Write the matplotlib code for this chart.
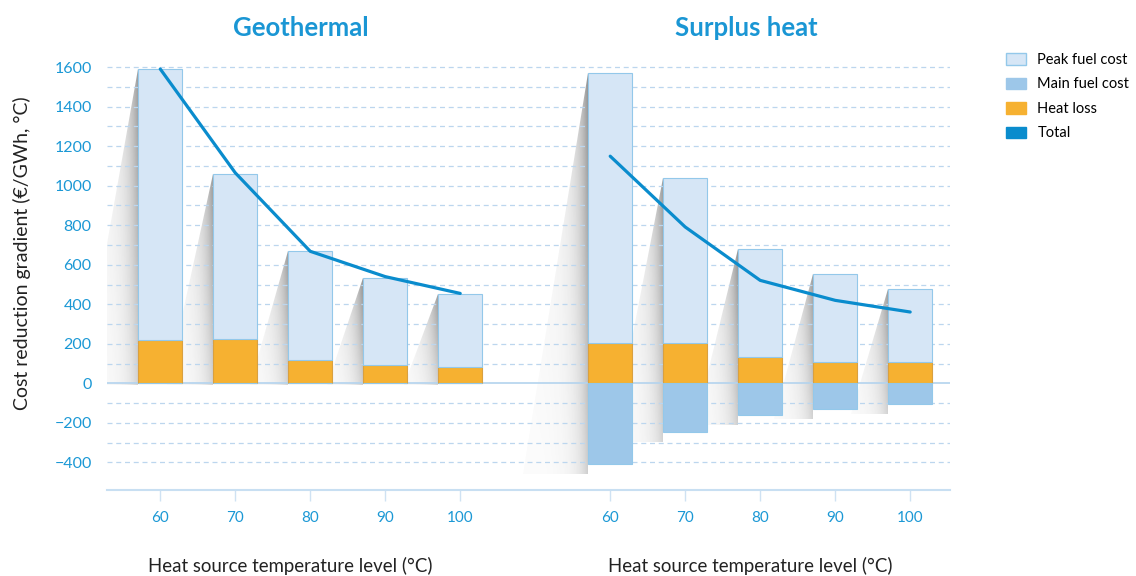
import numpy as np
import matplotlib
matplotlib.use('Agg')
from matplotlib import pyplot as plt
from matplotlib.patches import Patch, Polygon

plt.rcParams['font.family'] = ['Lato', 'DejaVu Sans']

# cost reduction gradient components (EUR/GWh, degC)
temps = [60, 70, 80, 90, 100]

geo_heat_loss = [218, 222, 120, 92, 82]
geo_peak_fuel = [1372, 838, 548, 440, 370]
geo_main_fuel = [0, 0, 0, 0, 0]
geo_total = [1590, 1065, 668, 540, 455]

surplus_heat_loss = [204, 204, 132, 110, 106]
surplus_peak_fuel = [1364, 836, 550, 445, 372]
surplus_main_fuel = [-407, -246, -162, -130, -106]
surplus_total = [1149, 791, 521, 420, 361]

groups = ['Geothermal', 'Surplus heat']

PEAK_C = '#d6e6f6'
PEAK_EDGE = '#93c8ea'
MAIN_C = '#9dc7e9'
LOSS_C = '#f6b131'
LOSS_EDGE = '#d9a040'
TOTAL_C = '#0a8ccd'
TICK_C = '#1b98d5'
GRID_C = '#bcd6ee'

W = 0.59
PX_X = 75.0     # pixels per x unit
PX_Y = 0.1975   # pixels per y unit

fig = plt.figure(figsize=(11.36, 5.76), dpi=100)
ax = fig.add_axes([0.0942, 0.149, 0.742, 0.769])
ax.set_xlim(-0.71, 10.53)
ax.set_ylim(-540, 1700)


def shadow(ax, x_left, top, base, spread_px):
    # soft grey wedge falling to the left of a bar
    spread = spread_px / PX_X
    nx, ny = 100, 240
    xs = np.linspace(x_left - spread, x_left, nx)
    ys = np.linspace(base, top, ny)
    XX, YY = np.meshgrid(xs, ys)
    dx_px = (x_left - XX) * PX_X
    frac = (YY - base) / (top - base)
    vert = 0.45 + 0.55 * frac
    alpha = (0.04 + 0.5 * np.exp(-dx_px / 11.0)) * vert
    img = np.zeros((ny, nx, 4))
    img[..., :3] = 0.22
    img[..., 3] = alpha
    im = ax.imshow(img, extent=[x_left - spread, x_left, base, top], origin='lower',
                   aspect='auto', zorder=1, interpolation='bilinear')
    tri = Polygon([(x_left, top), (x_left, base), (x_left - spread, base)],
                  closed=True, transform=ax.transData, facecolor='none', edgecolor='none')
    ax.add_patch(tri)
    im.set_clip_path(tri)


datasets = [
    (np.arange(5), geo_heat_loss, geo_peak_fuel, geo_main_fuel, geo_total),
    (np.arange(5) + 6, surplus_heat_loss, surplus_peak_fuel, surplus_main_fuel, surplus_total),
]

for xs, loss, peak, main, total in datasets:
    loss = np.array(loss)
    peak = np.array(peak)
    main = np.array(main)
    tops = loss + peak
    for x, t, m in zip(xs, tops, main):
        base = m - 50 if m < 0 else -10
        h_px = (t - base) * PX_Y
        shadow(ax, x - W / 2, t, base, 25 + 0.1 * h_px)
    ax.bar(xs, loss, W, color=LOSS_C, edgecolor=LOSS_EDGE, linewidth=0.8, zorder=3)
    ax.bar(xs, peak, W, bottom=loss, color=PEAK_C, edgecolor=PEAK_EDGE, linewidth=0.8, zorder=3)
    ax.bar(xs, main, W, color=MAIN_C, edgecolor=PEAK_EDGE, linewidth=0.8, zorder=3)
    ax.plot(xs, total, color=TOTAL_C, lw=2.3, zorder=5, solid_capstyle='round')

# dashed grid every 100, solid zero line
for v in range(-400, 1700, 100):
    if v == 0:
        ax.axhline(0, color='#b3d3ee', lw=1.2, zorder=2)
    else:
        ax.axhline(v, color=GRID_C, lw=0.9, ls=(0, (4, 3)), zorder=2)

for s in ['top', 'right', 'left']:
    ax.spines[s].set_visible(False)
ax.spines['bottom'].set_color('#c8dff2')
ax.spines['bottom'].set_linewidth(1.5)

ax.set_xticks(list(datasets[0][0]) + list(datasets[1][0]))
ax.set_xticklabels([str(t) for t in temps] * 2)
ax.tick_params(axis='x', colors='#cfe2f3', length=8, width=1, labelcolor=TICK_C,
               labelsize=11, pad=7)
ax.set_yticks(range(-400, 1700, 200))
ax.tick_params(axis='y', length=0, labelcolor=TICK_C, labelsize=11.5, pad=11)

ax.set_ylabel('Cost reduction gradient (€/GWh, °C)', fontsize=14, color='#222222')
ax.yaxis.set_label_coords(-0.09, 0.535)

for cx, name in zip([1.87, 7.81], groups):
    ax.text(cx, 1.044, name, transform=ax.get_xaxis_transform(), ha='center', va='center',
            fontsize=18.5, fontweight='bold', color='#1a96d4')
for cx in [1.73, 7.87]:
    ax.text(cx, -0.17, 'Heat source temperature level (°C)', transform=ax.get_xaxis_transform(),
            ha='center', va='center', fontsize=13.4, color='#222222')

handles = [
    Patch(facecolor=PEAK_C, edgecolor=PEAK_EDGE, label='Peak fuel cost'),
    Patch(facecolor=MAIN_C, edgecolor=MAIN_C, label='Main fuel cost'),
    Patch(facecolor=LOSS_C, edgecolor=LOSS_C, label='Heat loss'),
    Patch(facecolor=TOTAL_C, edgecolor=TOTAL_C, label='Total'),
]
fig.legend(handles=handles, loc='upper left', bbox_to_anchor=(0.8856, 0.908), frameon=False,
           fontsize=10.5, handlelength=1.4, handleheight=0.8, labelspacing=0.72,
           handletextpad=0.75, borderpad=0, borderaxespad=0)

plt.savefig('out.png', dpi=100)
